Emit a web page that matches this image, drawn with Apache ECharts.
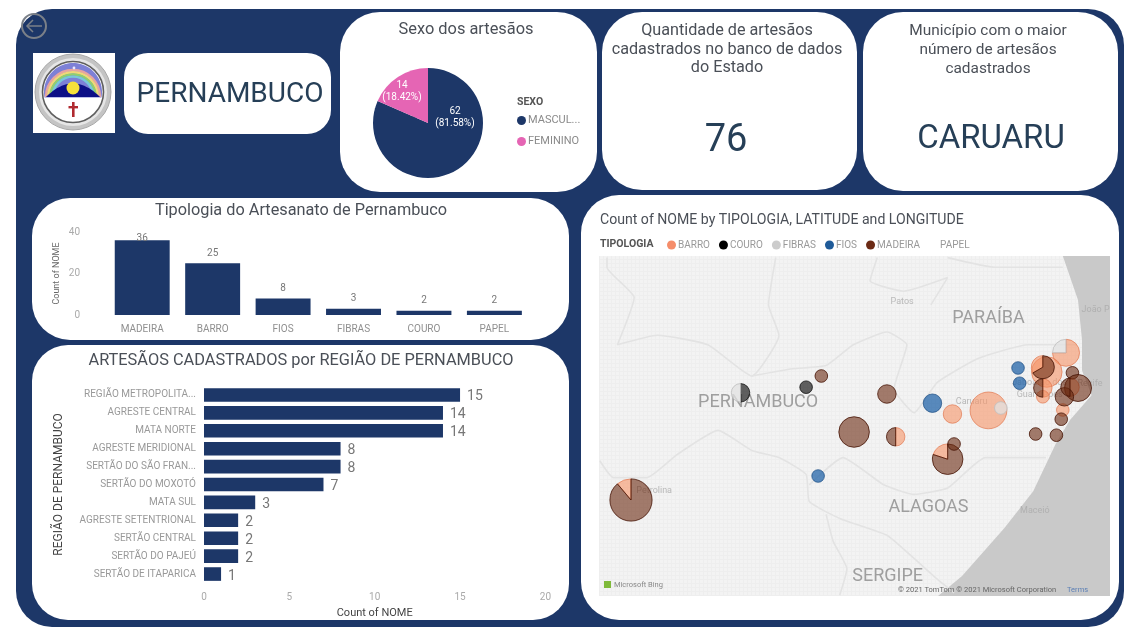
<!DOCTYPE html>
<html><head><meta charset="utf-8">
<script src="https://cdn.jsdelivr.net/npm/echarts@6/dist/echarts.min.js"></script>
<style>html,body{margin:0;padding:0;background:#fff;overflow:hidden}#c{width:1129px;height:630px;filter:blur(.45px)}</style>
</head><body><div id="c"></div>
<script>
// ---- data ----
const sexNames = ['MASCULINO','FEMININO'];
const sexValues = [62,14];
const typeCats = ['MADEIRA','BARRO','FIOS','FIBRAS','COURO','PAPEL'];
const typeVals = [36,25,8,3,2,2];
const regionCats = ['REGIÃO METROPOLITANA','AGRESTE CENTRAL','MATA NORTE','AGRESTE MERIDIONAL','SERTÃO DO SÃO FRANCISCO','SERTÃO DO MOXOTÓ','MATA SUL','AGRESTE SETENTRIONAL','SERTÃO CENTRAL','SERTÃO DO PAJEÚ','SERTÃO DE ITAPARICA'];
const regionVals = [15,14,14,8,8,7,3,2,2,2,1];
// bubbles on the map
const bubbleLon = [-40.50,-36.54,-36.46,-37.71,-37.19,-38.16,-36.03,-35.875,-36.48,-36.73,-35.66,-35.64,-35.06,-35.30,-35.35,-35.35,-35.35,-34.98,-34.91,-35.08,-35.01,-35.10,-35.12,-35.18,-35.44,-38.31,-38.12,-37.30,-39.13];
const bubbleLat = [-9.43,-8.92,-8.73,-8.58,-8.64,-9.13,-8.31,-8.28,-8.355,-8.22,-7.78,-7.97,-7.59,-7.83,-7.77,-8.03,-8.14,-7.84,-8.03,-8.14,-8.02,-8.305,-8.42,-8.62,-8.605,-8.02,-7.88,-8.105,-8.09];
const barro   = [1,1,0,0,1,0,7,0,2,0,0,0,3,5,1,1,1,0,0,0,1,1,0,0,0,0,0,0,0];
const couro   = [0,0,0,0,0,0,0,0,0,0,0,0,0,0,0,0,0,0,0,0,0,0,0,0,0,1,0,0,1];
const fibras  = [0,0,0,0,0,0,0,1,0,0,0,0,1,0,0,0,0,0,0,0,0,0,0,0,0,0,0,0,1];
const fios    = [0,0,0,0,0,1,0,0,0,2,1,1,0,0,0,0,0,0,0,0,0,0,0,0,0,0,0,0,0];
const madeira = [8,4,1,5,1,0,0,0,0,0,0,0,0,0,2,1,0,1,4,2,1,0,1,1,1,0,1,2,0];
const papel   = new Array(bubbleLon.length).fill(0);
const typologyNames = ['BARRO','COURO','FIBRAS','FIOS','MADEIRA','PAPEL'];
// map geography
const seaLon = [-35.10,-34.91,-34.86,-34.86,-34.74,-35.01,-35.19,-35.47,-35.83,-36.36,-36.66,-34.51,-34.51];
const seaLat = [-6.38,-6.93,-7.43,-7.81,-8.12,-8.43,-8.73,-9.32,-9.78,-10.38,-10.63,-10.63,-6.38];
const borderCearaPiaui = [[-40.80,-6.40],[-40.80,-6.52],[-40.46,-6.90],[-40.67,-7.49],[-40.17,-7.37],[-39.54,-7.49],[-38.99,-7.88],[-38.65,-7.37],[-38.78,-6.99],[-38.69,-6.40]];
const borderParaiba = [[-38.99,-7.88],[-38.48,-7.79],[-38.06,-7.75],[-37.72,-7.49],[-37.30,-7.33],[-37.05,-7.49],[-37.21,-8.04],[-36.96,-8.34],[-36.67,-7.96],[-36.16,-7.66],[-35.53,-7.49],[-34.93,-7.49]];
const borderPatos = [[-37.42,-6.40],[-37.51,-6.69],[-37.09,-6.82],[-36.54,-6.65],[-36.75,-6.99]];
const borderNorth = [[-36.54,-6.40],[-35.95,-6.52],[-35.10,-6.52]];
const borderRiver = [[-40.89,-8.94],[-40.72,-9.15],[-40.30,-9.15],[-39.92,-8.86],[-39.41,-8.56],[-38.99,-8.81],[-38.65,-8.90],[-38.31,-9.11],[-38.27,-9.45],[-37.89,-9.66],[-37.30,-9.87],[-36.96,-10.16],[-36.67,-10.42],[-36.46,-10.59]];
const borderAlagoas = [[-38.27,-9.24],[-37.85,-8.90],[-37.34,-9.24],[-36.96,-9.36],[-36.54,-9.28],[-36.07,-8.90],[-35.31,-8.90]];
const borderSergipe = [[-38.06,-9.61],[-37.97,-9.95],[-37.80,-10.29],[-37.89,-10.62]];
const stateLabels = [[-38.91,-8.205,'PERNAMBUCO'],[-36.03,-7.155,'PARAÍBA'],[-36.78,-9.52,'ALAGOAS'],[-37.29,-10.39,'SERGIPE']];
const cityLabels = [[-37.11,-6.955,'Patos'],[-34.69,-7.05,'João P'],[-34.76,-7.98,'Recife'],[-35.39,-8.04,'Jaboatão dos\nGuararapes'],[-36.24,-8.205,'Caruaru'],[-35.45,-9.57,'Maceió'],[-40.21,-9.31,'Petrolina']];

// ---- style ----
const NAVY='#1d3768', FONT='Roboto, "Noto Sans", sans-serif';
const typologySolid={BARRO:'#f58d6a',COURO:'#000000',FIBRAS:'#cccccc',FIOS:'#1f5b99',MADEIRA:'#6b2a14',PAPEL:'#ffffff'};
const typologyFill={BARRO:'rgba(247,148,104,.6)',COURO:'rgba(15,15,15,.65)',FIBRAS:'rgba(225,225,225,.75)',FIOS:'rgba(28,95,166,.72)',MADEIRA:'rgba(107,42,16,.6)',PAPEL:'rgba(255,255,255,.6)'};
const typologyStroke={BARRO:'rgba(225,120,80,.7)',COURO:'rgba(0,0,0,.7)',FIBRAS:'rgba(190,190,190,.8)',FIOS:'rgba(25,75,130,.7)',MADEIRA:'rgba(70,20,5,.8)',PAPEL:'rgba(255,255,255,.6)'};
const columns=[barro,couro,fibras,fios,madeira,papel];
function radiusFor(n){return 6.3*Math.pow(n,.55);}

// one row per slice, grouped by typology; slices run clockwise from 12 o'clock, largest first
const sliceRows=typologyNames.map(()=>[]);
bubbleLon.forEach((lon,i)=>{
  const parts=columns.map((c,t)=>({t,v:c[i]})).filter(p=>p.v>0).sort((a,b)=>b.v-a.v||a.t-b.t);
  const total=parts.reduce((s,p)=>s+p.v,0);
  let acc=0;
  parts.forEach(p=>{sliceRows[p.t].push([lon,bubbleLat[i],acc/total,(acc+p.v)/total,total]);acc+=p.v;});
});
function sliceRenderer(name){
  return function(params,api){
    const c=api.coord([api.value(0),api.value(1)]);
    const a=api.value(2),b=api.value(3),r=radiusFor(api.value(4));
    const style={fill:typologyFill[name],stroke:typologyStroke[name],lineWidth:1};
    if(b-a>=.999) return {type:'circle',shape:{cx:c[0],cy:c[1],r},style};
    return {type:'sector',shape:{cx:c[0],cy:c[1],r0:0,r,startAngle:-Math.PI/2+a*2*Math.PI,endAngle:-Math.PI/2+b*2*Math.PI},style};
  };
}

// land texture
const tex=document.createElement('canvas');tex.width=4;tex.height=4;
const tc=tex.getContext('2d');tc.fillStyle='#f3f3f3';tc.fillRect(0,0,4,4);tc.fillStyle='#eeeeee';tc.fillRect(0,3,4,1);tc.fillRect(3,0,1,4);

function card(x,y,w,h,r){return {type:'rect',z:0,silent:true,shape:{x,y,width:w,height:h,r},style:{fill:'#fff'}};}
function text(x,y,t,size,color,extra){return {type:'text',z:1,silent:true,x,y,style:Object.assign({text:t,fontSize:size,fontFamily:FONT,fill:color,align:'center',verticalAlign:'middle'},extra||{})};}

// seal drawing helpers (decoration only)
const S=73,H=97,T=Math.PI;
function rainbow(r,color){return {type:'arc',z:2,silent:true,shape:{cx:S,cy:H,r,startAngle:T,endAngle:2*T},style:{fill:null,stroke:color,lineWidth:2.4}};}
const skyPts=[];for(let i=0;i<=48;i++){const a=T*.94+i/48*T*1.12;skyPts.push([S+29*Math.cos(a),92+29*Math.sin(a)]);}
const hillPts=[];for(let i=0;i<=24;i++){const u=i/24;hillPts.push([S-27+54*u,H-54*u*(1-u)]);}
const graphics=[
  {type:'rect',z:0,silent:true,shape:{x:16,y:9,width:1108,height:618,r:36},style:{fill:NAVY}},
  {type:'circle',z:1,silent:true,shape:{cx:34,cy:26,r:12},style:{fill:'rgba(0,0,0,0)',stroke:'#7b8088',lineWidth:2}},
  {type:'polyline',z:1,silent:true,shape:{points:[[33,20],[27,26],[33,32]]},style:{fill:null,stroke:'#7b8088',lineWidth:1.5}},
  {type:'line',z:1,silent:true,shape:{x1:27,y1:26,x2:42,y2:26},style:{stroke:'#7b8088',lineWidth:1.5}},
  card(33,53,82,80,0),
  card(124,53,207,81,24),card(340,12,257,180,40),card(602,12,255,178,40),card(863,12,255,179,40),
  card(32,198,537,142,38),card(32,345,537,275,36),card(581,195,538,425,38),
  {type:'rect',z:0,silent:true,shape:{x:599,y:256,width:511,height:340},style:{fill:{image:tex,repeat:'repeat'}}},
  // seal
  {type:'circle',z:1,silent:true,shape:{cx:S,cy:92,r:38},style:{fill:'#c4c4c4',stroke:'#a8a8a8',lineWidth:1}},
  {type:'circle',z:1,silent:true,shape:{cx:S,cy:92,r:34},style:{fill:'#e6e6e6'}},
  {type:'circle',z:1,silent:true,shape:{cx:S,cy:92,r:30.5},style:{fill:'#fff',stroke:'#5f5f5f',lineWidth:1.6}},
  {type:'polygon',z:2,silent:true,shape:{points:skyPts},style:{fill:'#7d80d6'}},
  rainbow(27,'#e7a4a0'),rainbow(24.8,'#f0d878'),rainbow(22.6,'#8fd06e'),rainbow(20.4,'#78c8d8'),
  {type:'polygon',z:2,silent:true,shape:{points:hillPts},style:{fill:'#0c0f86'}},
  {type:'circle',z:2,silent:true,shape:{cx:S,cy:88,r:6.5},style:{fill:'#f5e03a'}},
  {type:'circle',z:2,silent:true,shape:{cx:74,cy:68,r:1.4},style:{fill:'#e8e8ff'}},
  {type:'rect',z:2,silent:true,shape:{x:S-1,y:102,width:2.6,height:15},style:{fill:'#b02a30'}},
  {type:'rect',z:2,silent:true,shape:{x:S-4.5,y:106,width:9.5,height:2.4},style:{fill:'#b02a30'}},
  // texts
  text(230,94.5,'PERNAMBUCO',28,'#263f57'),
  text(466,30,'Sexo dos artesãos',16.4,'#4a4f57'),
  text(727,31,'Quantidade de artesãos',16.2,'#4a4f57'),
  text(727,49.5,'cadastrados no banco de dados',16.2,'#4a4f57'),
  text(727,68,'do Estado',16.2,'#4a4f57'),
  text(726,141,'76',38,'#263f57'),
  text(988,31,'Município com o maior',15.4,'#4a4f57'),
  text(988,50,'número de artesãos',15.4,'#4a4f57'),
  text(988,69,'cadastrados',15.4,'#4a4f57'),
  text(991,140,'CARUARU',33,'#263f57'),
  text(301,211,'Tipologia do Artesanato de Pernambuco',16.3,'#4a4f57'),
  text(301,361,'ARTESÃOS CADASTRADOS por REGIÃO DE PERNAMBUCO',16.35,'#4a4f57'),
  text(600,220,'Count of NOME by TIPOLOGIA, LATITUDE and LONGITUDE',14.1,'#4a4f57',{align:'left'}),
  text(600,244.5,'TIPOLOGIA',10.5,'#555',{align:'left',fontWeight:'bold'}),
  text(517,102,'SEXO',10.5,'#555',{align:'left',fontWeight:'bold'}),
  {type:'rect',z:3,silent:true,shape:{x:604,y:581,width:7,height:7},style:{fill:'#7fba3a'}},
  text(614,585,'Microsoft Bing',7.5,'#888',{align:'left'}),
  {type:'text',z:3,silent:true,x:898,y:590,style:{text:'© 2021 TomTom © 2021 Microsoft Corporation',fontSize:7.5,fontFamily:FONT,fill:'#666',verticalAlign:'middle'}},
  {type:'text',z:3,silent:true,x:1067,y:590,style:{text:'Terms',fontSize:7.5,fontFamily:FONT,fill:'#5b7fb5',verticalAlign:'middle'}}
];

const lineSeries=[borderCearaPiaui,borderParaiba,borderPatos,borderNorth,borderRiver,borderAlagoas,borderSergipe].map(d=>({
  type:'line',xAxisIndex:2,yAxisIndex:2,data:d,symbol:'none',smooth:.15,silent:true,z:1,
  lineStyle:{color:'#e3e3e3',width:1.6},clip:true
}));

const option={
  animation:false,
  textStyle:{fontFamily:FONT},
  graphic:{elements:graphics},
  legend:[
    {data:sexNames,orient:'vertical',left:512,top:110,itemWidth:9,itemHeight:9,itemGap:10,icon:'circle',selectedMode:false,
     textStyle:{fontSize:11,color:'#8a8a8a',width:56,overflow:'truncate',ellipsis:'...',padding:[0,0,0,-3]}},
    {data:typologyNames,left:662,top:235,itemWidth:9,itemHeight:9,itemGap:9,icon:'circle',selectedMode:false,
     textStyle:{fontSize:10,color:'#999',padding:[0,0,0,-3]}}
  ],
  grid:[
    {left:107,top:232,width:422.6,height:83},
    {left:204,top:386,width:341.4,height:197},
    {left:599,top:256,width:511,height:340}
  ],
  xAxis:[
    {gridIndex:0,type:'category',data:typeCats,axisLine:{show:false},axisTick:{show:false},axisLabel:{fontSize:10,color:'#8f8f8f',margin:9}},
    {gridIndex:1,type:'value',min:0,max:20,interval:5,splitLine:{show:false},axisLine:{show:false},axisTick:{show:false},axisLabel:{fontSize:10,color:'#aaa',margin:9},
     name:'Count of NOME',nameLocation:'middle',nameGap:25,nameTextStyle:{fontSize:11,color:'#444'}},
    {gridIndex:2,type:'value',min:-40.9,max:-34.51,show:false,splitLine:{show:false}}
  ],
  yAxis:[
    {gridIndex:0,type:'value',min:0,max:40,interval:20,splitLine:{show:false},axisLine:{show:false},axisTick:{show:false},axisLabel:{fontSize:10,color:'#aaa',margin:27},
     name:'Count of NOME',nameLocation:'middle',nameGap:46,nameTextStyle:{fontSize:9,color:'#666'}},
    {gridIndex:1,type:'category',inverse:true,data:regionCats,axisLine:{show:false},axisTick:{show:false},
     axisLabel:{fontSize:10,color:'#999',margin:8,width:118,overflow:'truncate',ellipsis:'...'},
     name:'REGIÃO DE PERNAMBUCO',nameLocation:'middle',nameGap:139,nameTextStyle:{fontSize:12,color:'#444'}},
    {gridIndex:2,type:'value',min:-10.63,max:-6.38,show:false,splitLine:{show:false}}
  ],
  series:[
    {type:'pie',name:'SEXO',center:[428,123],radius:[0,55],startAngle:90,clockwise:true,
     data:sexNames.map((n,i)=>({name:n,value:sexValues[i],itemStyle:{color:i?'#e565b4':NAVY}})),
     label:{position:'inside',color:'#fff',fontSize:10,lineHeight:12,align:'center',
       formatter:p=>p.value+'\n('+p.percent.toFixed(2)+'%)'},
     percentPrecision:2,silent:true,
     labelLayout:p=>p.dataIndex===0?{x:455,y:117,align:'center',verticalAlign:'middle'}:{x:402,y:91,align:'center',verticalAlign:'middle'}},
    {type:'bar',xAxisIndex:0,yAxisIndex:0,data:typeVals,barWidth:'78%',itemStyle:{color:NAVY},silent:true,
     label:{show:true,position:'top',fontSize:10,color:'#777',distance:5},
     labelLayout:p=>p.dataIndex===0?{dy:8}:{}},
    {type:'bar',xAxisIndex:1,yAxisIndex:1,data:regionVals,barWidth:'76%',itemStyle:{color:NAVY},silent:true,
     label:{show:true,position:'right',fontSize:14,color:'#777',distance:7,offset:[0,2]}},
    {type:'custom',xAxisIndex:2,yAxisIndex:2,silent:true,z:1,data:[[seaLon[0],seaLat[0]]],
     renderItem:(p,api)=>({type:'polygon',shape:{points:seaLon.map((x,i)=>api.coord([x,seaLat[i]]))},style:{fill:'#c9c9c9'}})},
    ...lineSeries,
    {type:'scatter',xAxisIndex:2,yAxisIndex:2,data:stateLabels,symbolSize:1,silent:true,z:2,itemStyle:{color:'rgba(0,0,0,0)'},
     label:{show:true,position:'inside',formatter:p=>p.value[2],fontSize:18,color:'#8a8a8a'}},
    {type:'scatter',xAxisIndex:2,yAxisIndex:2,data:cityLabels,symbolSize:1,silent:true,z:2,itemStyle:{color:'rgba(0,0,0,0)'},
     label:{show:true,position:'inside',formatter:p=>p.value[2],fontSize:9,lineHeight:12,color:'#aaa'}},
    ...typologyNames.map((n,t)=>({type:'custom',name:n,xAxisIndex:2,yAxisIndex:2,z:5,silent:true,
      itemStyle:{color:typologySolid[n]},encode:{x:0,y:1},data:sliceRows[t],renderItem:sliceRenderer(n)}))
  ]
};
const chart=echarts.init(document.getElementById('c'),null,{renderer:'canvas',width:1129,height:630});
chart.setOption(option);
</script></body></html>
